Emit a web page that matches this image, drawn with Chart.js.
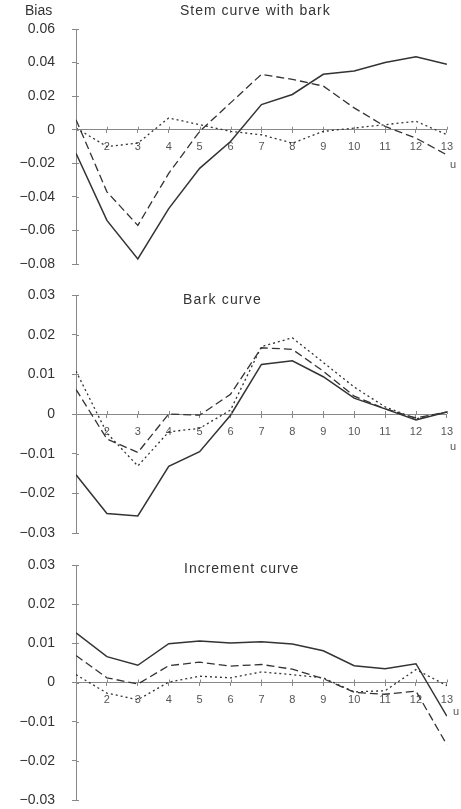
<!DOCTYPE html>
<html>
<head>
<meta charset="utf-8">
<script src="https://cdn.jsdelivr.net/npm/chart.js@4.4.1/dist/chart.umd.min.js"></script>
<style>
  body { margin: 0; background: #fff; width: 461px; height: 809px; position: relative; overflow: hidden;
         font-family: "Liberation Sans", Arial, sans-serif; }
  .box { position: absolute; left: 0; width: 461px; }
  .lbl { position: absolute; color: #333; white-space: nowrap; font-size: 14px; line-height: 16px; }
  .u { position: absolute; color: #555; font-size: 11px; line-height: 12px; }
</style>
</head>
<body>
<div class="box" style="top:0;height:300px"><canvas id="stem"></canvas></div>
<div class="box" style="top:260px;height:310px"><canvas id="bark"></canvas></div>
<div class="box" style="top:530px;height:309px"><canvas id="incr"></canvas></div>

<div class="lbl" style="left:25px;top:2px">Bias</div>
<div class="lbl" style="left:180px;top:2px;letter-spacing:1px">Stem curve with bark</div>
<div class="lbl" style="left:183px;top:291px;letter-spacing:1.2px">Bark curve</div>
<div class="lbl" style="left:184px;top:560px;letter-spacing:1px">Increment curve</div>
<div class="u" style="left:450px;top:158px">u</div>
<div class="u" style="left:450px;top:440px">u</div>
<div class="u" style="left:453px;top:705px">u</div>

<script>
const uValues = [1, 2, 3, 4, 5, 6, 7, 8, 9, 10, 11, 12, 13];

// Stem curve with bark
const stemSolid  = [-0.014, -0.054, -0.077, -0.047, -0.023, -0.007, 0.015, 0.021, 0.033, 0.035, 0.040, 0.0435, 0.039];
const stemDashed = [0.006, -0.037, -0.057, -0.026, -0.001, 0.016, 0.033, 0.030, 0.026, 0.013, 0.002, -0.005, -0.015];
const stemDotted = [0.001, -0.010, -0.008, 0.007, 0.003, -0.001, -0.003, -0.008, -0.001, 0.001, 0.003, 0.005, -0.003];

// Bark curve
const barkSolid  = [-0.0153, -0.0251, -0.0257, -0.0132, -0.0095, -0.0003, 0.0125, 0.0134, 0.0094, 0.0040, 0.0013, -0.0015, 0.0005];
const barkDashed = [0.0062, -0.0063, -0.0097, 0.0000, -0.0003, 0.0050, 0.0167, 0.0163, 0.0108, 0.0045, 0.0013, -0.0010, 0.0005];
const barkDotted = [0.0108, -0.0048, -0.0131, -0.0045, -0.0036, 0.0010, 0.0170, 0.0192, 0.0130, 0.0068, 0.0018, -0.0012, 0.0005];

// Increment curve
const incSolid  = [0.0127, 0.0066, 0.0044, 0.0099, 0.0106, 0.0101, 0.0104, 0.0098, 0.0081, 0.0043, 0.0035, 0.0048, -0.0086];
const incDashed = [0.0069, 0.0012, -0.0004, 0.0043, 0.0052, 0.0042, 0.0046, 0.0034, 0.0010, -0.0025, -0.0030, -0.0022, -0.0159];
const incDotted = [0.0020, -0.0027, -0.0044, 0.0001, 0.0016, 0.0012, 0.0027, 0.0020, 0.0012, -0.0024, -0.0021, 0.0033, -0.0008];

const lineColor = '#333';
const axisColor = '#888';
const font = '"Liberation Sans", Arial, sans-serif';

function pts(vals) {
    return uValues.map((u, i) => ({ x: u, y: vals[i] }));
}

function fmtY(v) {
    if (Math.abs(v) < 1e-9) return '0';
    return (v < 0 ? '\u2212' : '') + Math.abs(v).toFixed(2);
}

// tick marks on the inner side too, so they cross the axis lines
const crossTicks = {
    id: 'crossTicks',
    afterDraw(chart) {
        const { ctx, scales: { x, y } } = chart;
        const y0 = y.getPixelForValue(0);
        const x0 = x.getPixelForValue(1);
        ctx.save();
        ctx.strokeStyle = axisColor;
        ctx.lineWidth = 1;
        ctx.beginPath();
        x.ticks.forEach(t => {
            const px = Math.round(x.getPixelForValue(t.value)) + 0.5;
            ctx.moveTo(px, y0 - 3);
            ctx.lineTo(px, y0);
        });
        y.ticks.forEach(t => {
            const py = Math.round(y.getPixelForValue(t.value)) + 0.5;
            ctx.moveTo(x0, py);
            ctx.lineTo(x0 + 3, py);
        });
        ctx.stroke();
        ctx.restore();
    }
};

function makeChart(id, yMin, yMax, step, solid, dashed, dotted, padTop, padBottom) {
    return new Chart(document.getElementById(id), {
        type: 'line',
        data: {
            datasets: [
                { data: pts(solid), borderColor: lineColor, borderWidth: 1.5 },
                { data: pts(dashed), borderColor: lineColor, borderWidth: 1.3, borderDash: [8, 4] },
                { data: pts(dotted), borderColor: lineColor, borderWidth: 1.3, borderDash: [2, 3] }
            ]
        },
        options: {
            responsive: true,
            maintainAspectRatio: false,
            animation: false,
            layout: { padding: { top: padTop, bottom: padBottom, left: 0, right: 13 } },
            elements: { point: { radius: 0 }, line: { tension: 0, fill: false } },
            plugins: { legend: { display: false }, tooltip: { enabled: false } },
            scales: {
                x: {
                    type: 'linear',
                    min: 1, max: 13,
                    position: { y: 0 },
                    border: { color: axisColor, width: 1 },
                    grid: { drawOnChartArea: false, drawTicks: true, tickLength: 3, color: axisColor },
                    ticks: {
                        stepSize: 1,
                        padding: 8,
                        color: '#555',
                        font: { family: font, size: 11 },
                        maxRotation: 0,
                        autoSkip: false,
                        callback: v => v === 1 ? '' : v
                    }
                },
                y: {
                    min: yMin, max: yMax,
                    afterFit: s => { s.width = 76; },
                    border: { color: axisColor, width: 1 },
                    grid: { drawOnChartArea: false, drawTicks: true, tickLength: 4, color: axisColor },
                    ticks: {
                        stepSize: step,
                        padding: 17,
                        color: '#333',
                        font: { family: font, size: 14 },
                        callback: v => fmtY(v)
                    }
                }
            }
        },
        plugins: [crossTicks]
    });
}

makeChart('stem', -0.08, 0.06, 0.02, stemSolid, stemDashed, stemDotted, 29, 36);
makeChart('bark', -0.03, 0.03, 0.01, barkSolid, barkDashed, barkDotted, 35, 37);
makeChart('incr', -0.03, 0.03, 0.01, incSolid, incDashed, incDotted, 35, 39);
</script>
</body>
</html>
